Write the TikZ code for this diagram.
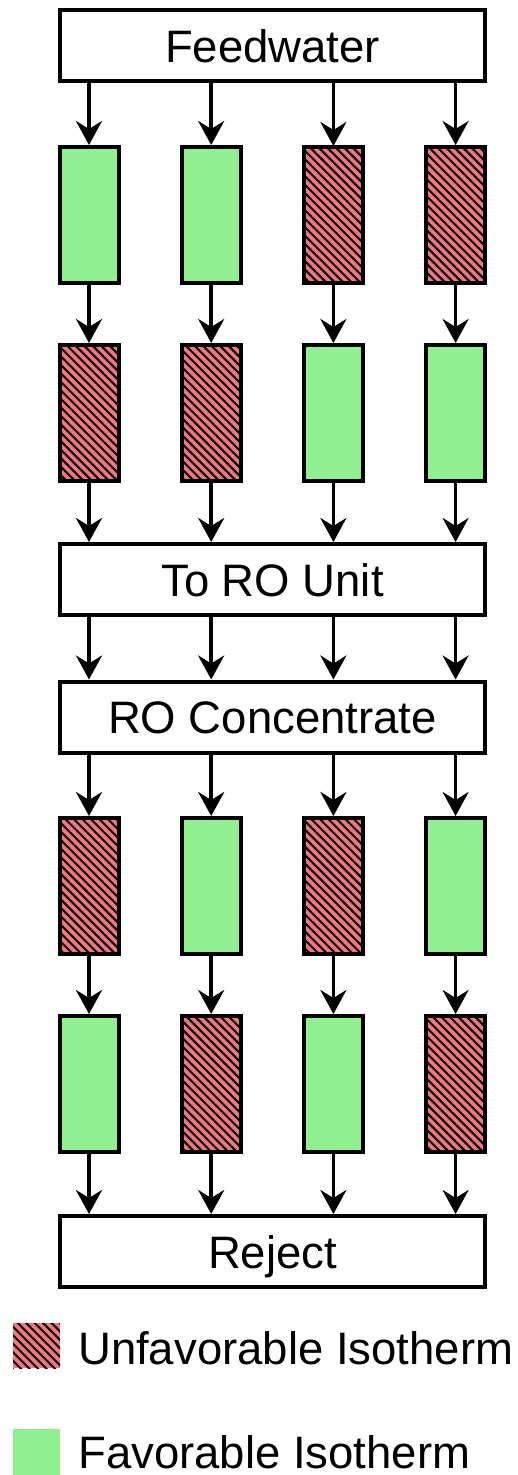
\documentclass[tikz,border=0pt]{standalone}
\usepackage{fontspec}
\setmainfont{Liberation Sans}
\usetikzlibrary{arrows.meta,patterns.meta}
\definecolor{favgreen}{RGB}{144,240,144}
\definecolor{unfred}{RGB}{240,120,125}
\begin{document}
\begin{tikzpicture}[x=1pt,y=-1pt,
  bigbox/.style={draw, line width=4pt, minimum width=425pt, minimum height=71pt,
    inner sep=0pt, text height=33pt, text depth=0pt,
    font=\fontsize{45.5}{54}\selectfont},
  favbox/.style={draw, line width=4pt, fill=favgreen, minimum width=59pt, minimum height=136pt, inner sep=0pt},
  unfbox/.style={draw, line width=4pt, preaction={fill=unfred},
    pattern={Lines[angle=-45,distance=6pt,line width=2pt]}, pattern color=black,
    minimum width=59pt, minimum height=136pt, inner sep=0pt},
  flow/.style={line width=3.5pt, -{Stealth[length=24pt,width=26pt,inset=8pt]}},
  legtext/.style={anchor=base west, inner sep=0pt, font=\fontsize{45.5}{54}\selectfont}
]
\useasboundingbox (0,0) rectangle (517,1475);
\fill[white] (0,0) rectangle (517,1475);

\node[bigbox] (fw) at (272.5,45.5) {Feedwater};
\node[bigbox] (toro) at (272.5,579.5) {To RO Unit};
\node[bigbox] (roc) at (272.5,717) {RO Concentrate};
\node[bigbox] (rej) at (272.5,1251.5) {Reject};

% rows
\node[favbox] (a1) at (89,215) {};
\node[favbox] (a2) at (211.2,215) {};
\node[unfbox] (a3) at (333.4,215) {};
\node[unfbox] (a4) at (455.6,215) {};

\node[unfbox] (b1) at (89,413) {};
\node[unfbox] (b2) at (211.2,413) {};
\node[favbox] (b3) at (333.4,413) {};
\node[favbox] (b4) at (455.6,413) {};

\node[unfbox] (c1) at (89,886) {};
\node[favbox] (c2) at (211.2,886) {};
\node[unfbox] (c3) at (333.4,886) {};
\node[favbox] (c4) at (455.6,886) {};

\node[favbox] (d1) at (89,1084) {};
\node[unfbox] (d2) at (211.2,1084) {};
\node[favbox] (d3) at (333.4,1084) {};
\node[unfbox] (d4) at (455.6,1084) {};

\foreach \i in {1,2,3,4}{
  \draw[flow] (fw.south -| a\i) -- (a\i.north);
  \draw[flow] (a\i.south) -- (b\i.north);
  \draw[flow] (b\i.south) -- (toro.north -| b\i);
  \draw[flow] (toro.south -| b\i) -- (roc.north -| b\i);
  \draw[flow] (roc.south -| c\i) -- (c\i.north);
  \draw[flow] (c\i.south) -- (d\i.north);
  \draw[flow] (d\i.south) -- (rej.north -| d\i);
}

% legend
\node[minimum width=47pt, minimum height=45pt, inner sep=0pt, preaction={fill=unfred},
  pattern={Lines[angle=-45,distance=6pt,line width=2pt]}, pattern color=black] (lu) at (36.5,1345.5) {};
\node[legtext] (tu) at (78,1364) {Unfavorable Isotherm};
\node[minimum width=47pt, minimum height=46pt, inner sep=0pt, fill=favgreen] (lf) at (36.5,1452) {};
\node[legtext] (tf) at (78,1468) {Favorable Isotherm};
\end{tikzpicture}
\end{document}
